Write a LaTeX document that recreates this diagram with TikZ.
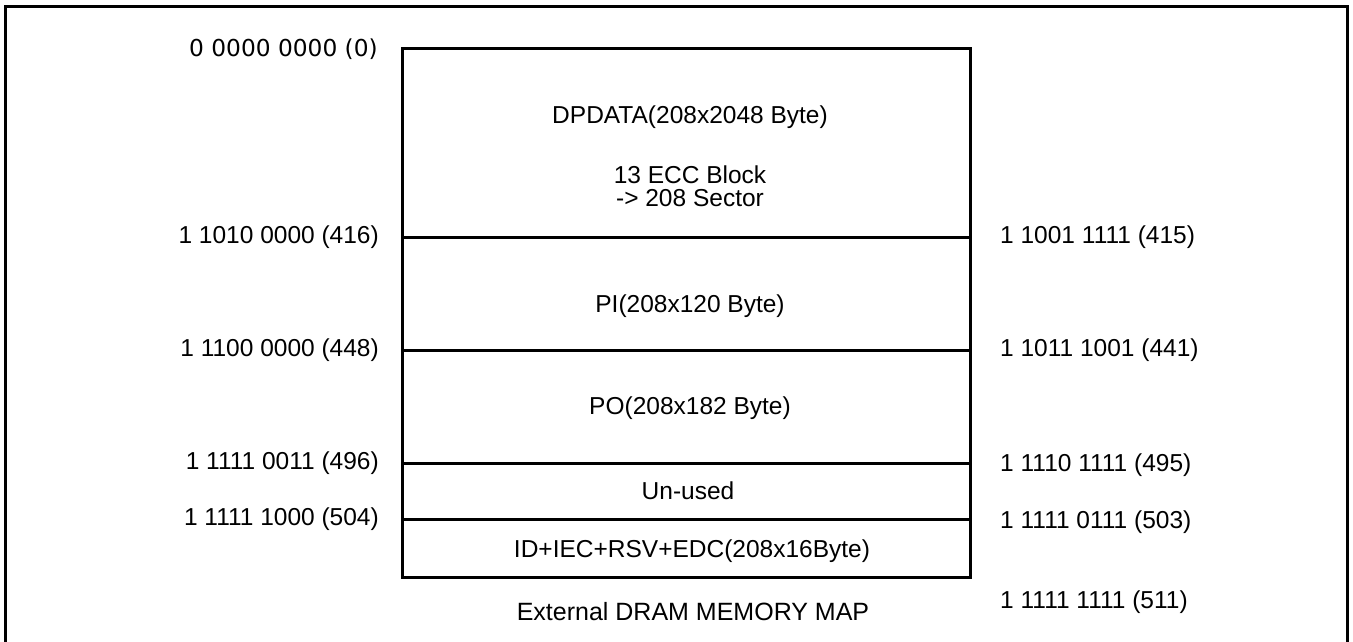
\documentclass[tikz,border=0pt]{standalone}
\usepackage{fontspec}
\setmainfont{Liberation Sans}
\newfontfamily\dvs{DejaVu Sans}
\begin{document}
\begin{tikzpicture}[x=1pt,y=-1pt,
  frame/.style={draw=black,line width=3pt},
  divider/.style={draw=black,line width=3pt},
  lbl/.style={inner sep=0pt,font=\fontsize{24.5}{28}\selectfont},
  llbl/.style={lbl,anchor=east},
  rlbl/.style={lbl,anchor=west},
  ctext/.style={lbl,anchor=center}]
\useasboundingbox (0,0) rectangle (1353,641);
% outer border (bottom edge lies outside the picture)
\draw[frame] (5,6) rectangle (1347,700);
% memory box
\coordinate (tl) at (402,48);
\coordinate (br) at (970,577);
\draw[frame] (tl) rectangle (br);
\coordinate (l1) at (402,237); \coordinate (r1) at (970,237);
\coordinate (l2) at (402,350); \coordinate (r2) at (970,350);
\coordinate (l3) at (402,463); \coordinate (r3) at (970,463);
\coordinate (l4) at (402,519); \coordinate (r4) at (970,519);
\draw[divider] (l1) -- (r1);
\draw[divider] (l2) -- (r2);
\draw[divider] (l3) -- (r3);
\draw[divider] (l4) -- (r4);
% left addresses
\node[llbl,font=\dvs\fontsize{23.3}{28}\selectfont] (a0) at (378,49) {0 0000 0000 (0)};
\node[llbl] (a416) at (379,237) {1 1010 0000 (416)};
\node[llbl] (a448) at (379,350) {1 1100 0000 (448)};
\node[llbl] (a496) at (379,463) {1 1111 0011 (496)};
\node[llbl] (a504) at (379,519) {1 1111 1000 (504)};
% right addresses
\node[rlbl] (a415) at (1000,237) {1 1001 1111 (415)};
\node[rlbl] (a441) at (1000,350) {1 1011 1001 (441)};
\node[rlbl] (a495) at (1000,465) {1 1110 1111 (495)};
\node[rlbl] (a503) at (1000,522) {1 1111 0111 (503)};
\node[rlbl] (a511) at (1000,602) {1 1111 1111 (511)};
% region texts
\node[ctext] (dp) at (690,117) {DPDATA(208x2048 Byte)};
\node[ctext,align=center,font=\fontsize{24.5}{23}\selectfont] (ecc) at (690,186) {13 ECC Block\\-> 208 Sector};
\node[ctext] (pi) at (690,306) {PI(208x120 Byte)};
\node[ctext] (po) at (690,408) {PO(208x182 Byte)};
\node[ctext] (un) at (688,491) {Un-used};
\node[ctext] (id) at (692,551) {ID+IEC+RSV+EDC(208x16Byte)};
\node[ctext,font=\fontsize{25}{28}\selectfont] (title) at (693,612) {External DRAM MEMORY MAP};
\end{tikzpicture}
\end{document}
